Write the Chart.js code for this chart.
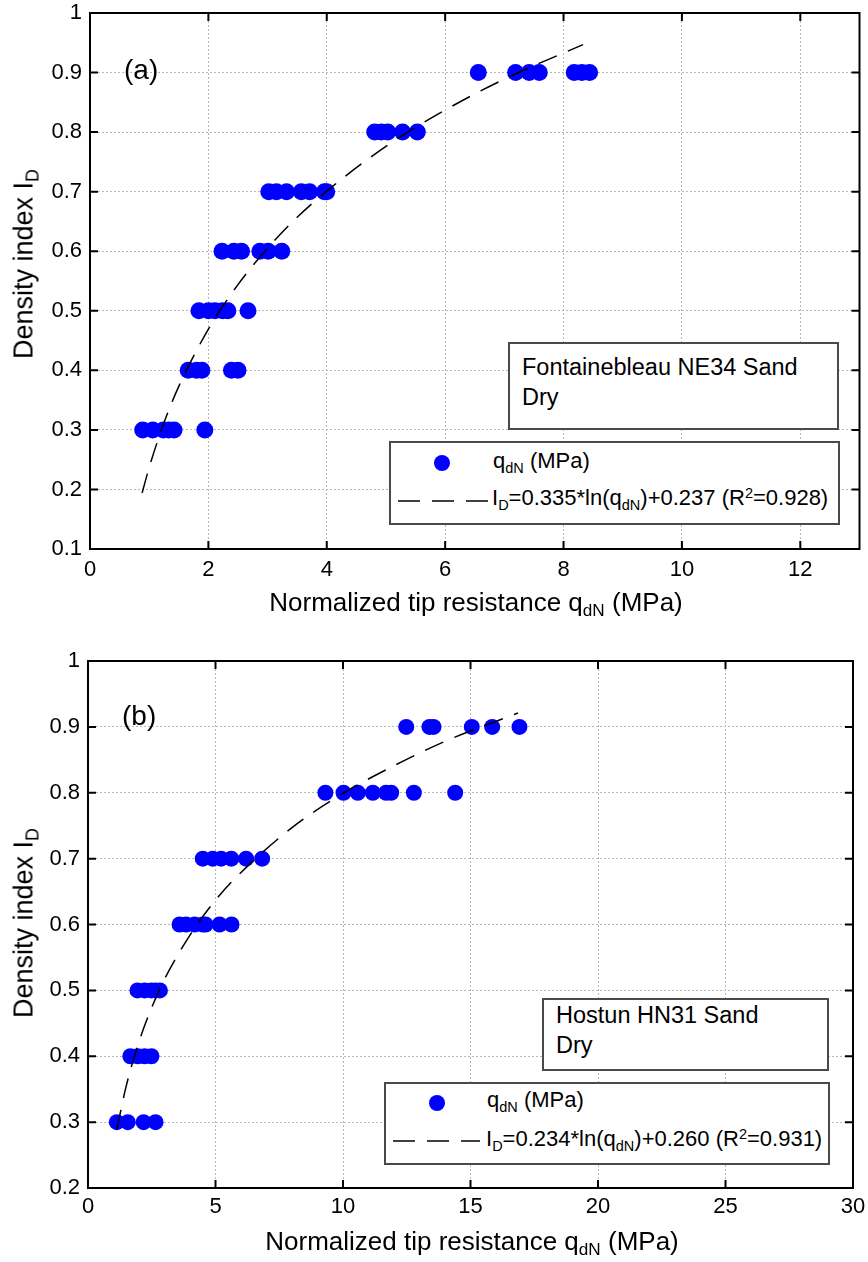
<!DOCTYPE html>
<html>
<head>
<meta charset="utf-8">
<script src="https://cdn.jsdelivr.net/npm/chart.js@4"></script>
<style>
  html, body { margin: 0; padding: 0; background: #fff; }
  body { font-family: "Liberation Sans", Arial, sans-serif; color: #000; }
  #wrap { position: relative; width: 868px; height: 1262px; overflow: hidden; }
  .pane { position: absolute; left: 0; width: 868px; }
  .txt { position: absolute; white-space: nowrap; line-height: 1; }
  .box { position: absolute; box-sizing: border-box; border: 2px solid #4a4a4a; background: #fff; }
  .sub { font-size: 0.66em; vertical-align: -0.32em; line-height: 0; }
  .sup { font-size: 0.66em; vertical-align: 0.5em; line-height: 0; }
  .ytitle { position: absolute; white-space: nowrap; line-height: 1; font-size: 27px;
            transform: translate(-50%, -50%) rotate(-90deg); }
  .xtitle { position: absolute; white-space: nowrap; line-height: 1; font-size: 26px;
            transform: translateX(-50%); }
  .dot { position: absolute; width: 16px; height: 16px; border-radius: 50%; background: #0000ff;
         transform: translate(-50%, -50%); }
</style>
</head>
<body>
<div id="wrap">
  <div class="pane" style="top:0;height:620px"><canvas id="chartA"></canvas></div>
  <div class="pane" style="top:620px;height:642px"><canvas id="chartB"></canvas></div>
</div>
<script>
// (a) Fontainebleau NE34 sand
var idA = [0.3, 0.4, 0.5, 0.6, 0.7, 0.8, 0.9];
var qA = [
  [0.89, 1.06, 1.24, 1.33, 1.42, 1.94],
  [1.66, 1.80, 1.89, 2.39, 2.50],
  [1.84, 2.00, 2.11, 2.24, 2.33, 2.67],
  [2.23, 2.43, 2.56, 2.87, 3.01, 3.24],
  [3.02, 3.15, 3.32, 3.57, 3.71, 3.96, 4.00],
  [4.81, 4.92, 5.03, 5.28, 5.53],
  [6.56, 7.19, 7.42, 7.59, 8.18, 8.31, 8.44]
];
var fitQA = [0.88, 1.0, 1.25, 1.5, 2, 2.5, 3, 3.5, 4, 5, 6, 7, 8.33];
var fitIA = [0.194, 0.237, 0.312, 0.373, 0.469, 0.544, 0.605, 0.657, 0.701, 0.776, 0.837, 0.889, 0.947];
var xTicksA = [0, 2, 4, 6, 8, 10, 12];
var yTicksA = [0.1, 0.2, 0.3, 0.4, 0.5, 0.6, 0.7, 0.8, 0.9, 1];

// (b) Hostun HN31 sand
var idB = [0.3, 0.4, 0.5, 0.6, 0.7, 0.8, 0.9];
var qB = [
  [1.13, 1.56, 2.18, 2.65],
  [1.66, 1.95, 2.22, 2.49],
  [1.94, 2.22, 2.48, 2.65, 2.82],
  [3.59, 3.85, 4.18, 4.50, 4.61, 5.16, 5.63],
  [4.50, 4.89, 5.22, 5.62, 6.20, 6.83],
  [9.31, 10.02, 10.58, 11.17, 11.69, 11.89, 12.78, 14.40],
  [12.48, 13.39, 13.55, 15.05, 15.85, 16.92]
];
var fitQB = [1.13, 1.5, 2, 2.5, 3, 4, 5, 6, 8, 10, 12, 14, 16.86];
var fitIB = [0.289, 0.355, 0.422, 0.474, 0.517, 0.584, 0.637, 0.679, 0.747, 0.799, 0.841, 0.878, 0.921];
var xTicksB = [0, 5, 10, 15, 20, 25, 30];
var yTicksB = [0.2, 0.3, 0.4, 0.5, 0.6, 0.7, 0.8, 0.9, 1];

var FONT = '"Liberation Sans", Arial, sans-serif';

function points(levels, rows) {
  var out = [];
  levels.forEach(function (lv, i) {
    rows[i].forEach(function (q) { out.push({ x: q, y: lv }); });
  });
  return out;
}

function pairs(xs, ys) {
  return xs.map(function (x, i) { return { x: x, y: ys[i] }; });
}

// black frame plus inward ticks on all four sides
var frameTicks = {
  id: 'frameTicks',
  afterDraw: function (chart) {
    var ctx = chart.ctx, a = chart.chartArea;
    var sx = chart.scales.x, sy = chart.scales.y;
    var len = 8;
    ctx.save();
    ctx.strokeStyle = '#000';
    ctx.lineWidth = 2;
    ctx.beginPath();
    sx.ticks.forEach(function (t) {
      var p = sx.getPixelForValue(t.value);
      ctx.moveTo(p, a.bottom); ctx.lineTo(p, a.bottom - len);
      ctx.moveTo(p, a.top); ctx.lineTo(p, a.top + len);
    });
    sy.ticks.forEach(function (t) {
      var p = sy.getPixelForValue(t.value);
      ctx.moveTo(a.left, p); ctx.lineTo(a.left + len, p);
      ctx.moveTo(a.right, p); ctx.lineTo(a.right - len, p);
    });
    ctx.stroke();
    ctx.strokeRect(a.left, a.top, a.right - a.left, a.bottom - a.top);
    ctx.restore();
  }
};

function makeChart(id, cfg) {
  return new Chart(document.getElementById(id), {
    type: 'scatter',
    data: {
      datasets: [
        {
          label: 'fit',
          data: pairs(cfg.fitQ, cfg.fitI),
          showLine: true,
          borderColor: '#000',
          borderWidth: 1.5,
          borderDash: [20, 12],
          pointRadius: 0,
          cubicInterpolationMode: 'monotone',
          order: 0
        },
        {
          label: 'qdN (MPa)',
          data: points(cfg.levels, cfg.q),
          pointRadius: cfg.r,
          pointBackgroundColor: '#0000ff',
          pointBorderWidth: 0,
          order: 1
        }
      ]
    },
    options: {
      responsive: true,
      maintainAspectRatio: false,
      animation: false,
      layout: { padding: { top: cfg.padTop, right: cfg.padRight, left: 0, bottom: 0 } },
      plugins: { legend: { display: false }, tooltip: { enabled: false } },
      scales: {
        x: {
          type: 'linear',
          min: cfg.xTicks[0],
          max: cfg.xMax,
          afterBuildTicks: function (s) { s.ticks = cfg.xTicks.map(function (v) { return { value: v }; }); },
          afterFit: function (s) { s.height = cfg.xAxisH; s.paddingLeft = 0; s.paddingRight = 0; },
          grid: { color: '#b8b8b8', lineWidth: 1, drawTicks: false },
          border: { display: false, dash: [2, 2] },
          ticks: { color: '#000', padding: cfg.xPad, font: { family: FONT, size: 22 } }
        },
        y: {
          type: 'linear',
          min: cfg.yTicks[0],
          max: 1,
          afterBuildTicks: function (s) { s.ticks = cfg.yTicks.map(function (v) { return { value: v }; }); },
          afterFit: function (s) { s.width = cfg.yAxisW; s.paddingTop = 0; s.paddingBottom = 0; },
          grid: { color: '#b8b8b8', lineWidth: 1, drawTicks: false },
          border: { display: false, dash: [2, 2] },
          ticks: {
            color: '#000',
            padding: 8,
            font: { family: FONT, size: 22 },
            callback: function (v) { return v === 1 ? '1' : Number(v).toFixed(1); }
          }
        }
      }
    },
    plugins: [frameTicks]
  });
}

makeChart('chartA', {
  levels: idA, q: qA, fitQ: fitQA, fitI: fitIA,
  xTicks: xTicksA, yTicks: yTicksA, xMax: 13, r: 8.5,
  padTop: 13, padRight: 4, yAxisW: 90, xAxisH: 71, xPad: 8
});
makeChart('chartB', {
  levels: idB, q: qB, fitQ: fitQB, fitI: fitIB,
  xTicks: xTicksB, yTicks: yTicksB, xMax: 30, r: 8,
  padTop: 41, padRight: 15, yAxisW: 88, xAxisH: 74, xPad: 6
});

// overlays: titles, panel labels, note boxes and legends
var wrap = document.getElementById('wrap');

function add(html, cls, style) {
  var el = document.createElement('div');
  el.className = cls;
  el.innerHTML = html;
  Object.keys(style).forEach(function (k) { el.style[k] = style[k]; });
  wrap.appendChild(el);
  return el;
}

// place text by its baseline (line-height 1)
function text(html, left, baseline, size) {
  return add(html, 'txt', {
    left: left + 'px',
    top: (baseline - 0.8465 * size) + 'px',
    fontSize: size + 'px'
  });
}

function dash(x1, x2, y) {
  var svg = '<svg width="' + (x2 - x1) + '" height="4" style="display:block">' +
    '<line x1="0" y1="2" x2="' + (x2 - x1) + '" y2="2" stroke="#000" stroke-width="1.5" stroke-dasharray="22 12"/></svg>';
  add(svg, 'txt', { left: x1 + 'px', top: (y - 2) + 'px' });
}

var qdN = 'q<span class="sub">dN</span>';
var xTitle = 'Normalized tip resistance ' + qdN + ' (MPa)';
var yTitle = 'Density index I<span class="sub">D</span>';

function panel(p) {
  add(yTitle, 'ytitle', { left: '24px', top: p.yTitleY + 'px' });
  add(xTitle, 'xtitle', { left: p.xTitleX + 'px', top: (p.xTitleBase - 0.8465 * 26) + 'px' });
  text(p.tag, p.tagX, p.tagBase, 28);

  add('', 'box', { left: p.note[0] + 'px', top: p.note[1] + 'px',
    width: (p.note[2] - p.note[0]) + 'px', height: (p.note[3] - p.note[1]) + 'px' });
  text(p.noteLines[0], p.noteX, p.noteBase[0], 23.5);
  text(p.noteLines[1], p.noteX, p.noteBase[1], 23.5);

  add('', 'box', { left: p.leg[0] + 'px', top: p.leg[1] + 'px',
    width: (p.leg[2] - p.leg[0]) + 'px', height: (p.leg[3] - p.leg[1]) + 'px' });
  add('', 'dot', { left: p.dot[0] + 'px', top: p.dot[1] + 'px' });
  text(qdN + ' (MPa)', p.legX, p.legBase[0], 22);
  dash(p.dashX[0], p.dashX[1], p.dashY);
  text(p.fitText, p.legX - 1, p.legBase[1], 22);
}

panel({
  yTitleY: 264, xTitleX: 476, xTitleBase: 611,
  tag: '(a)', tagX: 124, tagBase: 80,
  note: [508, 342, 839, 430], noteX: 522, noteBase: [376, 406],
  noteLines: ['Fontainebleau NE34 Sand', 'Dry'],
  leg: [389, 441, 840, 525], dot: [442, 463], legX: 493, legBase: [469, 506],
  dashX: [398, 488], dashY: 501,
  fitText: 'I<span class="sub">D</span>=0.335*ln(' + qdN + ')+0.237 (R<span class="sup">2</span>=0.928)'
});

panel({
  yTitleY: 923, xTitleX: 472, xTitleBase: 1250,
  tag: '(b)', tagX: 122, tagBase: 726,
  note: [542, 998, 829, 1071], noteX: 556, noteBase: [1024, 1054],
  noteLines: ['Hostun HN31 Sand', 'Dry'],
  leg: [384, 1082, 830, 1165], dot: [437, 1103], legX: 487, legBase: [1108, 1147],
  dashX: [393, 480], dashY: 1141,
  fitText: 'I<span class="sub">D</span>=0.234*ln(' + qdN + ')+0.260 (R<span class="sup">2</span>=0.931)'
});
</script>
</body>
</html>
